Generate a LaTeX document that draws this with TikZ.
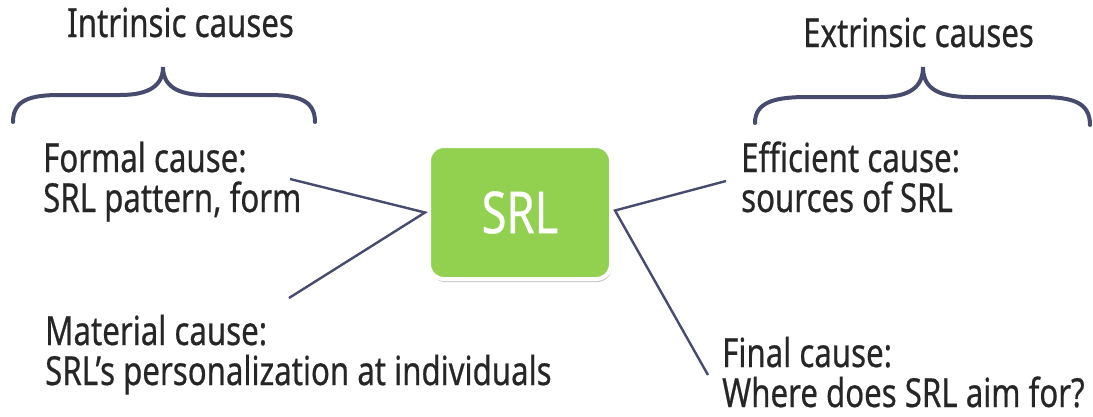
\documentclass[tikz,border=0pt]{standalone}
\usepackage{fontspec}
\setmainfont{Noto Sans}[FakeStretch=0.78, FakeBold=0.5]
\usetikzlibrary{shadows}
\definecolor{ink}{HTML}{262626}
\definecolor{navy}{HTML}{474B6E}
\definecolor{srlgreen}{HTML}{92D050}
\tikzset{
  cause/.style={anchor=base west, inner sep=0pt, align=left, text=ink,
    text depth=0pt, font=\fontsize{40}{40}\selectfont},
  heading/.style={anchor=base west, inner sep=0pt, text=ink,
    font=\fontsize{40}{40}\selectfont},
  hub/.style={rectangle, rounded corners=15pt, fill=srlgreen, draw=white,
    line width=4pt, minimum width=182pt, minimum height=133pt,
    text=white, font=\fontsize{58}{60}\selectfont,
    drop shadow={shadow xshift=1pt, shadow yshift=-3pt, opacity=0.22, fill=black}},
  link/.style={draw=navy, line width=2.4pt, line join=miter},
  brace/.style={draw=navy, line width=4pt, line cap=round}
}
\begin{document}
\begin{tikzpicture}[x=1pt, y=-1pt]
\useasboundingbox (0,0) rectangle (1093,416);

% headings
\node[heading] (intr) at (67,37) {Intrinsic causes};
\node[heading] (extr) at (803,47) {Extrinsic causes};

% curly braces under the headings
\draw[brace] (13,122) .. controls (13,100) and (30,95) .. (60,95) -- (120,95)
  .. controls (150,95) and (163,85) .. (163,67)
  .. controls (163,85) and (176,95) .. (206,95) -- (268,95)
  .. controls (298,95) and (315,100) .. (315,122);
\draw[brace] (755,123) .. controls (755,102) and (775,97) .. (807,97) -- (880,97)
  .. controls (910,97) and (923,87) .. (923,67)
  .. controls (923,87) and (936,97) .. (970,97) -- (1040,97)
  .. controls (1072,97) and (1090,102) .. (1090,125);

% central node
\node[hub] (srl) at (520,212.5) {SRL};

% the four causes (anchored at the baseline of their second line)
\node[cause] (formal) at (43,212) {Formal cause:\\SRL pattern, form};
\node[cause] (efficient) at (741,212) {Efficient cause:\\sources of SRL};
\node[cause] (material) at (45,385) {Material cause:\\SRL’s personalization at individuals};
\node[cause] (final) at (722,407) {Final cause:\\Where does SRL aim for?};

% loose ends of the connectors, beside the texts
\coordinate (formalEnd) at (290,179);
\coordinate (materialEnd) at (289,298);
\coordinate (efficientEnd) at (726,181);
\coordinate (finalEnd) at (708,375);

\draw[link] (formalEnd) -- ([xshift=-2pt]srl.west) -- (materialEnd);
\draw[link] (efficientEnd) -- ([xshift=2pt,yshift=2pt]srl.east) -- (finalEnd);
\end{tikzpicture}
\end{document}
